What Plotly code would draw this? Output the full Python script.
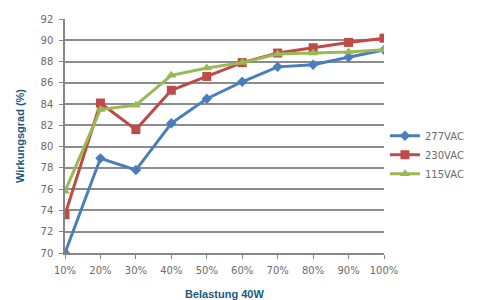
import plotly.graph_objects as go

categories = ["10%", "20%", "30%", "40%", "50%", "60%", "70%", "80%", "90%", "100%"]
v277 = [70.0, 78.9, 77.8, 82.2, 84.5, 86.1, 87.5, 87.7, 88.4, 89.1]
v230 = [73.6, 84.1, 81.6, 85.3, 86.6, 87.9, 88.8, 89.3, 89.8, 90.2]
v115 = [75.8, 83.5, 83.9, 86.7, 87.4, 87.9, 88.7, 88.8, 88.9, 89.1]
series_names = ["277VAC", "230VAC", "115VAC"]
y_ticks = [70, 72, 74, 76, 78, 80, 82, 84, 86, 88, 90, 92]

colors = ["#4A7EBB", "#BE4B48", "#98B954"]
symbols = ["diamond", "square", "triangle-up"]
sizes = [8, 9, 9]

fig = go.Figure()
for name, vals, c, s, sz in zip(series_names, [v277, v230, v115], colors, symbols, sizes):
    fig.add_trace(go.Scatter(
        x=list(range(len(categories))), y=vals, name=name, mode="lines+markers",
        line=dict(color=c, width=3), marker=dict(symbol=s, size=sz, color=c),
    ))

title_font = dict(family="Liberation Sans", size=11, color="#1B5A7E")

fig.update_layout(
    width=477, height=300,
    margin=dict(l=57, r=101, t=11, b=55, autoexpand=False),
    paper_bgcolor="white", plot_bgcolor="white",
    font=dict(family="DejaVu Sans", size=10, color="#6b6b6b"),
    showlegend=True,
    legend=dict(x=1.003, y=0.42, xanchor="left", yanchor="middle",
                font=dict(size=10, color="#6b6b6b"), itemwidth=30,
                tracegroupgap=0, bgcolor="rgba(0,0,0,0)"),
    xaxis=dict(
        tickmode="array", tickvals=list(range(len(categories))), ticktext=categories,
        range=[0, 9], showgrid=False, zeroline=False, automargin=False,
        showline=True, linecolor="#868686", linewidth=1.5,
        ticks="outside", ticklen=4, tickcolor="#868686", ticklabelstandoff=3,
    ),
    yaxis=dict(
        range=[70, 92], tickvals=y_ticks, showgrid=True, gridcolor="#8c8c8c", gridwidth=1.5,
        zeroline=False, showline=True, linecolor="#868686", linewidth=1.5, automargin=False,
        ticks="outside", ticklen=4, tickcolor="#868686", ticklabelstandoff=4,
    ),
    annotations=[
        dict(text="<b>Belastung 40W</b>", xref="paper", yref="paper", x=0.5, y=0,
             yshift=-41, xanchor="center", yanchor="middle", showarrow=False, font=title_font),
        dict(text="<b>Wirkungsgrad (%)</b>", xref="paper", yref="paper", x=0, y=0.5,
             xshift=-45, xanchor="center", yanchor="middle", textangle=-90,
             showarrow=False, font=title_font),
    ],
)

fig.write_html("out.html")
